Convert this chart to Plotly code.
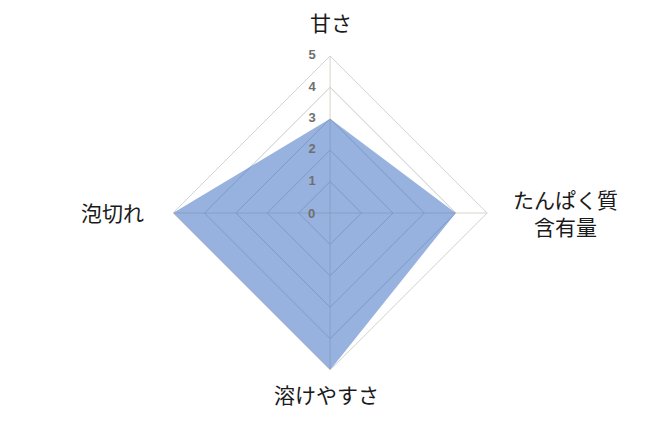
import plotly.graph_objects as go

# data
categories = ["甘さ", "たんぱく質含有量", "溶けやすさ", "泡切れ"]
category_labels = ["甘さ", "たんぱく質<br>含有量", "溶けやすさ", "泡切れ"]
values = [3, 4, 5, 5]
radial_ticks = [0, 1, 2, 3, 4, 5]

# where the category labels sit (paper coords)
label_pos = [(0.489, 0.966), (0.845, 0.517), (0.482, 0.089), (0.158, 0.518)]
polar_x = [0.250, 0.726]
polar_y = [0.146, 0.887]

fig = go.Figure()
fig.add_trace(go.Scatterpolar(
    r=values + values[:1],
    theta=categories + categories[:1],
    mode="lines",
    fill="toself",
    fillcolor="rgba(68,114,196,0.55)",
    line=dict(width=0, color="rgba(68,114,196,0.55)"),
    hoverinfo="r+theta",
))

tick_font = dict(family="Liberation Sans", size=13, color="#6f6f6f")

# radial tick labels, left of the top spoke
fig.add_trace(go.Scatterpolar(
    r=radial_ticks[1:],
    theta=[categories[0]] * (len(radial_ticks) - 1),
    mode="text",
    text=["<b>%d</b>    " % t for t in radial_ticks[1:]],
    textposition="middle left",
    textfont=tick_font,
    cliponaxis=False,
    hoverinfo="skip",
))
# the centre label (0) does not show as a polar text point
fig.add_annotation(
    text="<b>%d</b>" % radial_ticks[0],
    x=sum(polar_x) / 2, y=sum(polar_y) / 2, xref="paper", yref="paper",
    xanchor="right", yanchor="middle", xshift=-13, showarrow=False,
    font=tick_font,
)

for lab, (x, y) in zip(category_labels, label_pos):
    fig.add_annotation(
        text=lab, x=x, y=y, xref="paper", yref="paper",
        showarrow=False, xanchor="center", yanchor="middle",
        font=dict(family="Noto Sans CJK JP", size=21, color="#1a1a1a"),
    )

fig.update_layout(
    width=660,
    height=424,
    margin=dict(l=0, r=0, t=0, b=0),
    paper_bgcolor="white",
    showlegend=False,
    polar=dict(
        domain=dict(x=polar_x, y=polar_y),
        bgcolor="white",
        gridshape="linear",
        radialaxis=dict(
            range=[0, 5],
            tickvals=radial_ticks,
            showticklabels=False,
            showline=False,
            gridcolor="#c8c8c8",
            gridwidth=1,
            layer="below traces",
            ticks="",
        ),
        angularaxis=dict(
            rotation=90,
            direction="clockwise",
            showline=True,
            linecolor="#d3d3d3",
            linewidth=1,
            showticklabels=False,
            gridcolor="#d9d4c8",
            layer="above traces",
            ticks="",
        ),
    ),
)

fig.write_html("out.html")
